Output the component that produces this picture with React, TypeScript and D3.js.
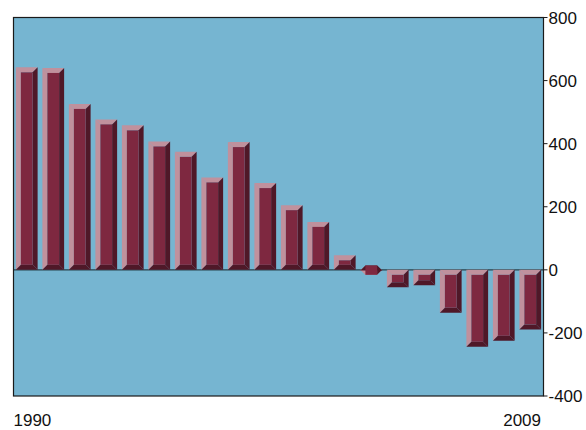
import React from "react";
import * as d3 from "d3";

const years = [
  "1990", "1991", "1992", "1993", "1994", "1995", "1996", "1997", "1998", "1999",
  "2000", "2001", "2002", "2003", "2004", "2005", "2006", "2007", "2008", "2009",
];
const values = [
  642, 640, 526, 477, 458, 407, 374, 293, 405, 275,
  205, 152, 46, -2, -55, -49, -136, -244, -225, -189,
];
const yTicks = [800, 600, 400, 200, 0, -200, -400];
const xLabels = ["1990", "2009"];

const W = 586;
const H = 430;
const plot = { left: 13.5, right: 543.5, top: 17.5, bottom: 396 };

const BG = "#76b5d1";
const LIGHT = "#c0919d";
const FRONT = "#7e2840";
const DARK = "#4f1828";
const BEVEL = 5;

function Bar({ x0, x1, y0, y1 }: { x0: number; x1: number; y0: number; y1: number }) {
  const b = BEVEL;
  const pts = (p: number[][]) => p.map((q) => q.join(",")).join(" ");
  const top = [[x0, y0], [x1, y0], [x1 - b, y0 + b], [x0 + b, y0 + b]];
  const left = [[x0, y0], [x0 + b, y0 + b], [x0 + b, y1 - b], [x0, y1]];
  const right = [[x1, y0], [x1, y1], [x1 - b, y1 - b], [x1 - b, y0 + b]];
  const bottom = [[x0, y1], [x0 + b, y1 - b], [x1 - b, y1 - b], [x1, y1]];
  const fy = Math.min(y0 + b, y1 - b);
  const fh = Math.abs(y1 - y0 - 2 * b);
  return (
    <g>
      <polygon points={pts(left)} fill={LIGHT} />
      <polygon points={pts(top)} fill={LIGHT} />
      <polygon points={pts(right)} fill={DARK} />
      <polygon points={pts(bottom)} fill={DARK} />
      <rect x={x0 + b} y={fy} width={x1 - x0 - 2 * b} height={fh} fill={FRONT} />
    </g>
  );
}

export default function App() {
  const x = d3
    .scaleBand<string>()
    .domain(years)
    .range([plot.left, plot.right])
    .paddingInner(0.18)
    .paddingOuter(0.09);
  const y = d3.scaleLinear().domain([-400, 800]).range([plot.bottom, plot.top]);
  const y0 = y(0);

  return (
    <svg
      width={W}
      height={H}
      style={{ position: "absolute", left: 0, top: 0, fontFamily: "Liberation Sans, Arial, sans-serif" }}
    >
      <rect x={0} y={0} width={W} height={H} fill="#ffffff" />
      <rect
        x={plot.left}
        y={plot.top}
        width={plot.right - plot.left}
        height={plot.bottom - plot.top}
        fill={BG}
      />
      <line x1={plot.left} x2={plot.right} y1={y0} y2={y0} stroke="#26434c" strokeWidth={1.2} />
      {values.map((v, i) => {
        const xs = x(years[i])!;
        const top = Math.min(y(v), y0);
        const bot = Math.max(y(v), y0);
        return <Bar key={years[i]} x0={xs} x1={xs + x.bandwidth()} y0={top} y1={bot} />;
      })}
      <rect
        x={plot.left}
        y={plot.top}
        width={plot.right - plot.left}
        height={plot.bottom - plot.top}
        fill="none"
        stroke="#1a1a1a"
        strokeWidth={1.2}
      />
      {yTicks.map((t) => (
        <g key={t}>
          <line x1={plot.right} x2={plot.right + 4} y1={y(t)} y2={y(t)} stroke="#1a1a1a" strokeWidth={1} />
          <text x={plot.right + 5} y={y(t) + 6} fontSize={17} fill="#111">
            {t}
          </text>
        </g>
      ))}
      <text x={plot.left} y={426} fontSize={17} fill="#111">
        {xLabels[0]}
      </text>
      <text x={541} y={426} fontSize={17} fill="#111" textAnchor="end">
        {xLabels[1]}
      </text>
    </svg>
  );
}
